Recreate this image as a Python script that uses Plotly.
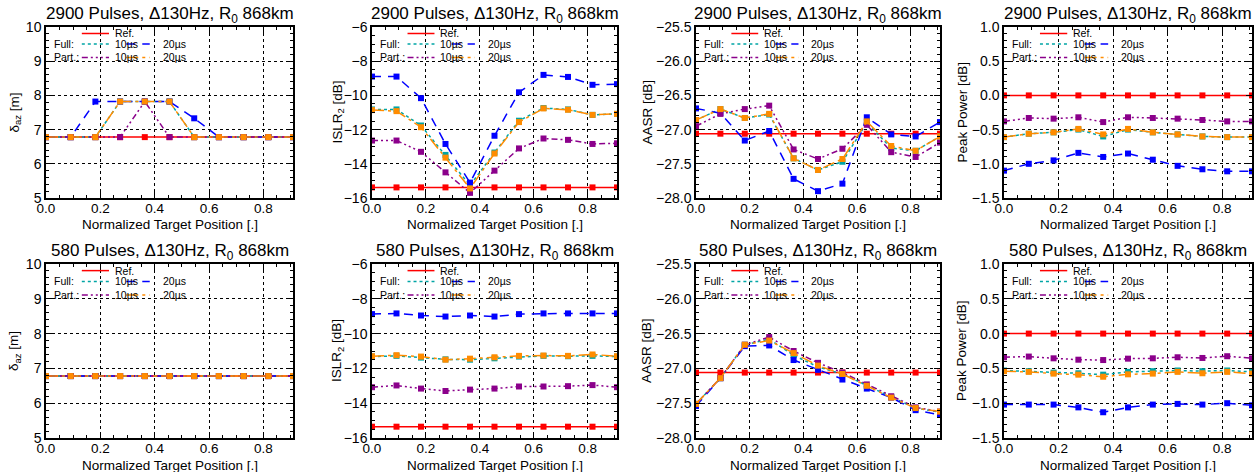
import plotly.graph_objects as go

# ---------------- data ----------------
x_pos = [0.0, 0.0909, 0.1818, 0.2727, 0.3636, 0.4545, 0.5455, 0.6364, 0.7273, 0.8182, 0.9091]
x_ticks = [0.0, 0.2, 0.4, 0.6, 0.8]
x_tick_labels = ["0.0", "0.2", "0.4", "0.6", "0.8"]

titles = ["2900 Pulses, \u0394130Hz, R<sub>0</sub> 868km", "580 Pulses, \u0394130Hz, R<sub>0</sub> 868km"]
y_titles = ["\u03b4<sub>az</sub> [m]", "ISLR<sub>2</sub> [dB]", "AASR [dB]", "Peak Power [dB]"]
x_title = "Normalized Target Position [.]"

# Panel 1: 2900 pulses, delta_az
daz2900_ref = [6.78, 6.78, 6.78, 6.78, 6.78, 6.78, 6.78, 6.78, 6.78, 6.78, 6.78]
daz2900_full10 = [6.78, 6.78, 6.78, 7.82, 7.82, 7.82, 6.78, 6.78, 6.78, 6.78, 6.78]
daz2900_full20 = [6.78, 6.78, 7.82, 7.82, 7.82, 7.82, 7.33, 6.78, 6.78, 6.78, 6.78]
daz2900_part10 = [6.78, 6.78, 6.78, 6.78, 7.82, 6.78, 6.78, 6.78, 6.78, 6.78, 6.78]
daz2900_part20 = [6.78, 6.78, 6.78, 7.82, 7.82, 7.82, 6.78, 6.78, 6.78, 6.78, 6.78]

# Panel 2: 2900 pulses, ISLR
islr2900_ref = [-15.38, -15.38, -15.38, -15.38, -15.38, -15.38, -15.38, -15.38, -15.38, -15.38, -15.38]
islr2900_full10 = [-10.82, -10.82, -11.76, -13.48, -15.26, -13.34, -11.48, -10.74, -10.82, -11.14, -11.08]
islr2900_full20 = [-8.9, -8.9, -10.16, -12.84, -15.1, -12.36, -9.82, -8.8, -8.92, -9.38, -9.34]
islr2900_part10 = [-12.64, -12.64, -13.3, -14.5, -15.7, -14.4, -13.1, -12.52, -12.6, -12.84, -12.8]
islr2900_part20 = [-10.86, -10.92, -11.86, -13.64, -15.44, -13.4, -11.56, -10.76, -10.84, -11.14, -11.08]

# Panel 3: 2900 pulses, AASR
aasr2900_ref = [-27.06, -27.06, -27.06, -27.06, -27.06, -27.06, -27.06, -27.06, -27.06, -27.06, -27.06]
aasr2900_full10 = [-26.86, -26.70, -26.83, -26.78, -27.42, -27.59, -27.47, -26.90, -27.27, -27.31, -27.10]
aasr2900_full20 = [-26.69, -26.76, -27.16, -27.02, -27.72, -27.90, -27.79, -26.82, -27.07, -27.10, -26.89]
aasr2900_part10 = [-26.95, -26.77, -26.70, -26.65, -27.29, -27.43, -27.28, -26.93, -27.33, -27.40, -27.19]
aasr2900_part20 = [-26.86, -26.70, -26.83, -26.77, -27.42, -27.59, -27.43, -26.88, -27.24, -27.31, -27.10]

# Panel 4: 2900 pulses, Peak power
pp2900_ref = [0.0, 0.0, 0.0, 0.0, 0.0, 0.0, 0.0, 0.0, 0.0, 0.0, 0.0]
pp2900_full10 = [-0.61, -0.56, -0.54, -0.50, -0.60, -0.50, -0.54, -0.57, -0.60, -0.61, -0.61]
pp2900_full20 = [-1.10, -1.00, -0.95, -0.84, -0.90, -0.85, -0.94, -1.03, -1.08, -1.11, -1.11]
pp2900_part10 = [-0.38, -0.33, -0.34, -0.32, -0.39, -0.32, -0.33, -0.34, -0.36, -0.38, -0.38]
pp2900_part20 = [-0.61, -0.56, -0.54, -0.49, -0.57, -0.49, -0.54, -0.57, -0.60, -0.61, -0.61]

# Panel 5: 580 pulses, delta_az
daz580_ref = [6.78, 6.78, 6.78, 6.78, 6.78, 6.78, 6.78, 6.78, 6.78, 6.78, 6.78]
daz580_full10 = [6.78, 6.78, 6.78, 6.78, 6.78, 6.78, 6.78, 6.78, 6.78, 6.78, 6.78]
daz580_full20 = [6.78, 6.78, 6.78, 6.78, 6.78, 6.78, 6.78, 6.78, 6.78, 6.78, 6.78]
daz580_part10 = [6.78, 6.78, 6.78, 6.78, 6.78, 6.78, 6.78, 6.78, 6.78, 6.78, 6.78]
daz580_part20 = [6.78, 6.78, 6.78, 6.78, 6.78, 6.78, 6.78, 6.78, 6.78, 6.78, 6.78]

# Panel 6: 580 pulses, ISLR
islr580_ref = [-15.35, -15.35, -15.35, -15.35, -15.35, -15.35, -15.35, -15.35, -15.35, -15.35, -15.35]
islr580_full10 = [-11.32, -11.28, -11.38, -11.48, -11.50, -11.42, -11.32, -11.28, -11.30, -11.28, -11.32]
islr580_full20 = [-8.88, -8.84, -8.96, -9.02, -8.96, -9.02, -8.88, -8.84, -8.84, -8.84, -8.84]
islr580_part10 = [-13.08, -12.98, -13.16, -13.30, -13.22, -13.16, -13.04, -13.04, -13.02, -12.96, -13.08]
islr580_part20 = [-11.30, -11.24, -11.32, -11.50, -11.44, -11.36, -11.28, -11.26, -11.28, -11.20, -11.30]

# Panel 7: 580 pulses, AASR
aasr580_ref = [-27.06, -27.06, -27.06, -27.06, -27.06, -27.06, -27.06, -27.06, -27.06, -27.06, -27.06]
aasr580_full10 = [-27.51, -27.14, -26.66, -26.58, -26.81, -26.98, -27.08, -27.25, -27.41, -27.57, -27.63]
aasr580_full20 = [-27.54, -27.14, -26.68, -26.67, -26.88, -27.02, -27.16, -27.29, -27.42, -27.60, -27.67]
aasr580_part10 = [-27.51, -27.14, -26.66, -26.55, -26.75, -26.92, -27.06, -27.23, -27.40, -27.56, -27.62]
aasr580_part20 = [-27.51, -27.14, -26.66, -26.60, -26.78, -26.96, -27.08, -27.25, -27.42, -27.57, -27.62]

# Panel 8: 580 pulses, Peak power
pp580_ref = [0.0, 0.0, 0.0, 0.0, 0.0, 0.0, 0.0, 0.0, 0.0, 0.0, 0.0]
pp580_full10 = [-0.53, -0.54, -0.56, -0.57, -0.59, -0.55, -0.54, -0.53, -0.54, -0.53, -0.55]
pp580_full20 = [-1.02, -1.02, -1.02, -1.06, -1.13, -1.06, -1.02, -1.01, -1.02, -1.00, -1.03]
pp580_part10 = [-0.34, -0.33, -0.355, -0.375, -0.38, -0.36, -0.355, -0.34, -0.35, -0.325, -0.355]
pp580_part20 = [-0.54, -0.55, -0.575, -0.59, -0.62, -0.585, -0.575, -0.55, -0.57, -0.55, -0.575]

y_ranges = [[5, 10], [-16, -6], [-28, -25.5], [-1.5, 1.0]]
y_dticks = [1, 2, 0.5, 0.5]
y_formats = ["d", "d", ".1f", ".1f"]

# ---------------- styling ----------------
FONT = "Liberation Sans"
colors = ["#ff0000", "#00a5a5", "#0000ff", "#8b008b", "#ff8c00"]
dashes = ["solid", "dot", "9px,7px", "6px,3px,2px,3px,2px,3px,2px,3px", "12px,4px,3px,4px"]

panel_data = [
    [daz2900_ref, daz2900_full10, daz2900_full20, daz2900_part10, daz2900_part20],
    [islr2900_ref, islr2900_full10, islr2900_full20, islr2900_part10, islr2900_part20],
    [aasr2900_ref, aasr2900_full10, aasr2900_full20, aasr2900_part10, aasr2900_part20],
    [pp2900_ref, pp2900_full10, pp2900_full20, pp2900_part10, pp2900_part20],
    [daz580_ref, daz580_full10, daz580_full20, daz580_part10, daz580_part20],
    [islr580_ref, islr580_full10, islr580_full20, islr580_part10, islr580_part20],
    [aasr580_ref, aasr580_full10, aasr580_full20, aasr580_part10, aasr580_part20],
    [pp580_ref, pp580_full10, pp580_full20, pp580_part10, pp580_part20],
]

W, H = 1254, 472
x_pix = [(46, 293), (372, 617), (696, 940), (1004, 1252)]
y_pix = [(27, 198), (264, 438)]
ytitle_offset = [31, 34, 49, 42]   # px left of the axis line

fig = go.Figure()
layout = dict(
    width=W, height=H, margin=dict(l=0, r=0, t=0, b=0, autoexpand=False),
    paper_bgcolor="white", plot_bgcolor="white", showlegend=False,
    font=dict(family=FONT, color="black", size=13),
)
annotations = []
shapes = []

for p in range(8):
    row, col = divmod(p, 4)
    idx = p + 1
    xa = "x" if idx == 1 else f"x{idx}"
    ya = "y" if idx == 1 else f"y{idx}"
    xkey = "xaxis" if idx == 1 else f"xaxis{idx}"
    ykey = "yaxis" if idx == 1 else f"yaxis{idx}"
    x0, x1 = x_pix[col]
    yt, yb = y_pix[row]
    xdom = [x0 / W, x1 / W]
    ydom = [1 - yb / H, 1 - yt / H]

    for s in range(5):
        fig.add_trace(go.Scatter(
            x=x_pos, y=panel_data[p][s], mode="lines+markers",
            line=dict(color=colors[s], width=1.5, dash=dashes[s]),
            marker=dict(symbol="square", size=6, color=colors[s]),
            xaxis=xa, yaxis=ya, cliponaxis=True,
        ))

    common = dict(showline=True, linecolor="black", linewidth=1.5, mirror="allticks",
                  ticks="inside", ticklen=6, tickcolor="black", tickwidth=1,
                  showgrid=True, gridcolor="black", gridwidth=1, griddash="dot",
                  zeroline=False, automargin=False)
    layout[xkey] = dict(domain=xdom, anchor=ya, range=[0, x_pos[-1]],
                        tickvals=x_ticks, ticktext=x_tick_labels, ticklabelstandoff=-3,
                        tickfont=dict(size=13.5, family=FONT),
                        minor=dict(ticks="inside", ticklen=3, tickcolor="black", nticks=5, showgrid=False),
                        **common)
    layout[ykey] = dict(domain=ydom, anchor=xa, range=y_ranges[col], dtick=y_dticks[col],
                        tickformat=y_formats[col], tickfont=dict(size=14, family=FONT),
                        minor=dict(ticks="inside", ticklen=3, tickcolor="black", nticks=5, showgrid=False),
                        **common)

    # x axis title
    annotations.append(dict(text=x_title, x=(xdom[0] + xdom[1]) / 2, y=1 - (yb + 27) / H,
                            xref="paper", yref="paper", xanchor="center", yanchor="middle",
                            showarrow=False, font=dict(size=13.5, family=FONT)))
    # y axis title
    annotations.append(dict(text=y_titles[col], x=(x0 - ytitle_offset[col]) / W, y=(ydom[0] + ydom[1]) / 2,
                            xref="paper", yref="paper", xanchor="center", yanchor="middle", textangle=-90,
                            showarrow=False, font=dict(size=13.5, family=FONT)))
    # title
    annotations.append(dict(text=titles[row], x=(xdom[0] + xdom[1]) / 2, y=1 - (yt - 12) / H,
                            xref="paper", yref="paper", xanchor="center", yanchor="middle",
                            showarrow=False, font=dict(size=17, family=FONT)))

    # in-plot legend
    xd = f"{xa} domain"
    yd = f"{ya} domain"
    rows_y = [0.962, 0.900, 0.822]
    lf = dict(size=10.5, family=FONT)
    shapes.append(dict(type="line", xref=xd, yref=yd, x0=0.145, x1=0.255, y0=rows_y[0], y1=rows_y[0],
                       line=dict(color=colors[0], width=1.5, dash=dashes[0])))
    annotations.append(dict(text="Ref.", xref=xd, yref=yd, x=0.27, y=rows_y[0], xanchor="left", yanchor="middle",
                            showarrow=False, font=lf))
    for r, (lab, s1, s2) in enumerate([("Full:", 1, 2), ("Part.:", 3, 4)]):
        yy = rows_y[r + 1]
        annotations.append(dict(text=lab, xref=xd, yref=yd, x=0.025, y=yy, xanchor="left", yanchor="middle",
                                showarrow=False, font=lf))
        shapes.append(dict(type="line", xref=xd, yref=yd, x0=0.145, x1=0.255, y0=yy, y1=yy,
                           line=dict(color=colors[s1], width=1.5, dash=dashes[s1])))
        annotations.append(dict(text="10\u00b5s", xref=xd, yref=yd, x=0.27, y=yy, xanchor="left", yanchor="middle",
                                showarrow=False, font=lf))
        shapes.append(dict(type="line", xref=xd, yref=yd, x0=0.325, x1=0.42, y0=yy, y1=yy,
                           line=dict(color=colors[s2], width=1.5, dash=dashes[s2])))
        annotations.append(dict(text="20\u00b5s", xref=xd, yref=yd, x=0.465, y=yy, xanchor="left", yanchor="middle",
                                showarrow=False, font=lf))

layout["annotations"] = annotations
layout["shapes"] = shapes
fig.update_layout(**layout)
fig.write_html("out.html", config={"displayModeBar": False},
               post_script="document.body.style.margin='0';document.body.style.overflow='hidden';")
